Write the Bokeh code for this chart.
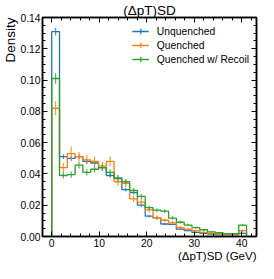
import numpy as np
from bokeh.plotting import figure
from bokeh.models import (Range1d, LinearAxis, FixedTicker, Legend, LegendItem,
                          PrintfTickFormatter, Title)
from bokeh.embed import file_html
from bokeh.resources import INLINE

# ---------------- data ----------------
bin_edges = [0.0, 1.64, 3.28, 4.92, 6.56, 8.2, 9.84, 11.48, 13.12, 14.76, 16.4, 18.04, 19.68,
             21.32, 22.96, 24.6, 26.24, 27.88, 29.52, 31.16, 32.8, 34.44, 36.08, 37.72, 39.36, 41.0]

unquenched = [0.131, 0.051, 0.050, 0.051, 0.048, 0.047, 0.044, 0.039, 0.037, 0.030, 0.028,
              0.020, 0.013, 0.012, 0.008, 0.0077, 0.0047, 0.0037, 0.0026, 0.0020, 0.0016,
              0.0010, 0.0010, 0.0010, 0.0020]
unquenched_err = [0.0025, 0.0015, 0.0015, 0.0015, 0.0015, 0.0015, 0.0014, 0.0014, 0.0013,
                  0.0012, 0.0012, 0.0010, 0.0009, 0.0008, 0.0007, 0.0006, 0.0005, 0.0004,
                  0.0004, 0.0003, 0.0003, 0.0002, 0.0002, 0.0002, 0.0004]

quenched = [0.082, 0.044, 0.053, 0.051, 0.049, 0.048, 0.045, 0.048, 0.035, 0.034, 0.024,
            0.022, 0.017, 0.012, 0.0104, 0.0087, 0.0057, 0.0047, 0.0037, 0.0026, 0.0020,
            0.0016, 0.0013, 0.0013, 0.0037]
quenched_err = [0.0045, 0.0030, 0.0045, 0.0030, 0.0030, 0.0030, 0.0028, 0.0030, 0.0025,
                0.0025, 0.0020, 0.0020, 0.0017, 0.0015, 0.0013, 0.0012, 0.0010, 0.0009,
                0.0008, 0.0007, 0.0006, 0.0005, 0.0004, 0.0004, 0.0008]

recoil = [0.101, 0.039, 0.0395, 0.0456, 0.041, 0.043, 0.044, 0.041, 0.0375, 0.035, 0.0294,
          0.0256, 0.0184, 0.0168, 0.0162, 0.0118, 0.0091, 0.0073, 0.0057, 0.0043, 0.0030,
          0.0024, 0.0018, 0.0018, 0.0073]
recoil_err = [0.0033, 0.0020, 0.0020, 0.0022, 0.0020, 0.0021, 0.0021, 0.0020, 0.0019,
              0.0018, 0.0017, 0.0016, 0.0014, 0.0013, 0.0012, 0.0011, 0.0009, 0.0008,
              0.0007, 0.0006, 0.0005, 0.0005, 0.0004, 0.0004, 0.0008]

series_names = ["Unquenched", "Quenched", "Quenched w/ Recoil"]
series_colors = ["#1f77b4", "#ff7f0e", "#2ca02c"]

x_major = [0, 10, 20, 30, 40]
x_minor = [v for v in range(-2, 44, 2)]
y_major = [0.0, 0.02, 0.04, 0.06, 0.08, 0.10, 0.12, 0.14]
y_minor = [i * 0.005 for i in range(0, 29)]

title_text = "(ΔpT)SD"
xlabel_text = "(ΔpT)SD (GeV)"
ylabel_text = "Density"

FONT = "Liberation Sans"

# ---------------- figure ----------------
p = figure(width=258, height=263, output_backend="svg", toolbar_location=None,
           x_range=Range1d(-1.94, 43.1), y_range=Range1d(0, 0.14),
           min_border_left=2, min_border_right=2, min_border_top=2, min_border_bottom=2,
           x_axis_type=None, y_axis_type=None)
p.xgrid.visible = False
p.ygrid.visible = False
p.outline_line_color = "black"
p.outline_line_width = 1.5
p.background_fill_color = "white"
p.border_fill_color = "white"

p.title.text = title_text
p.title.align = "center"
p.title.text_font = FONT
p.title.text_font_size = "13.5px"
p.title.text_font_style = "normal"
p.title.text_color = "black"
p.title.standoff = 0

xt = FixedTicker(ticks=x_major, minor_ticks=x_minor)
yt = FixedTicker(ticks=y_major, minor_ticks=y_minor)


def style_axis(ax, labels=True):
    ax.major_tick_in = 5
    ax.major_tick_out = 0
    ax.minor_tick_in = 3
    ax.minor_tick_out = 0
    ax.axis_line_width = 1.5
    ax.major_tick_line_width = 1
    ax.minor_tick_line_width = 1
    ax.major_label_text_font = FONT
    if labels:
        ax.major_label_text_font_size = "10.3px"
        ax.major_label_text_color = "black"
        ax.major_label_standoff = 2
    else:
        ax.major_label_text_font_size = "1px"
        ax.major_label_text_color = None
        ax.major_label_standoff = 0


xb = LinearAxis(ticker=xt)
style_axis(xb)
yl = LinearAxis(ticker=yt, formatter=PrintfTickFormatter(format="%.2f"))
style_axis(yl)
xtop = LinearAxis(ticker=xt)
style_axis(xtop, labels=False)
yr = LinearAxis(ticker=yt)
style_axis(yr, labels=False)
p.add_layout(xb, "below")
p.add_layout(yl, "left")
p.add_layout(xtop, "above")
p.add_layout(yr, "right")

p.add_layout(Title(text=xlabel_text, align="right", text_font=FONT, text_font_size="11.5px",
                   text_font_style="normal", text_color="black", standoff=0,
                   vertical_align="top"), "below")
p.add_layout(Title(text=ylabel_text, align="right", text_font=FONT, text_font_size="13.5px",
                   text_font_style="normal", text_color="black", standoff=0), "left")

# ---------------- histograms ----------------
edges = np.array(bin_edges)
centers = 0.5 * (edges[:-1] + edges[1:])
items = []
for name, vals, errs, col in zip(series_names, [unquenched, quenched, recoil],
                                 [unquenched_err, quenched_err, recoil_err], series_colors):
    vals = np.array(vals)
    errs = np.array(errs)
    xs = np.concatenate([[edges[0]], edges])
    ys = np.concatenate([[0.0], vals, [0.0]])
    r_step = p.step(xs, ys, mode="after", line_color=col, line_width=1.3)
    p.segment(x0=centers, x1=centers, y0=vals - errs, y1=vals + errs,
              line_color=col, line_width=1.2, line_alpha=0.8)
    r_cross = p.scatter(centers, vals, marker="cross", size=8, line_color=col,
                        line_width=1.2, visible=False)
    items.append(LegendItem(label=name, renderers=[r_step, r_cross]))

legend = Legend(items=items, location="top_right", label_text_font=FONT,
                label_text_font_size="10.3px", label_text_color="black",
                glyph_width=17, glyph_height=14, label_height=14, label_width=90,
                spacing=0, padding=9, margin=7, label_standoff=8,
                border_line_color=None, background_fill_alpha=0)
p.add_layout(legend)

open("out.html", "w").write(file_html(p, INLINE))
